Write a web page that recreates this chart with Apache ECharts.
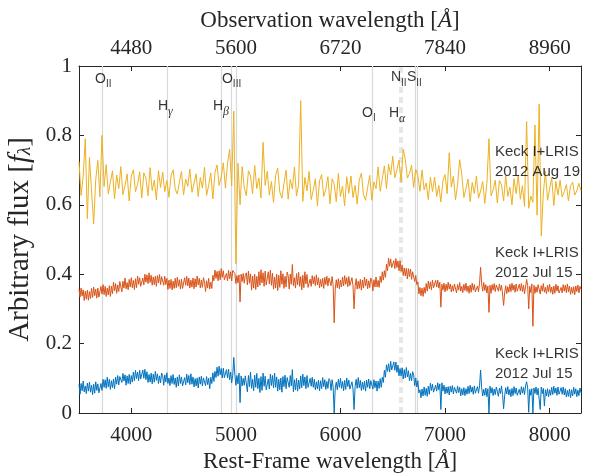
<!DOCTYPE html>
<html><head><meta charset="utf-8">
<script src="https://cdn.jsdelivr.net/npm/echarts@6/dist/echarts.min.js"></script>
<style>html,body{margin:0;padding:0;background:#fff}#c{width:597px;height:475px}</style>
</head><body><div id="c"></div>
<script>
// sampling grids of the spectra (rest-frame wavelength, Angstrom)
const wavelengthStart = 3500;
const stepAug19 = 20;
const stepJul15 = 10;

// Keck I+LRIS 2012 Aug 19 (yellow), 3500-8300 A every 20 A
const fluxAug19 = [
 0.724,0.627,0.682,0.790,0.560,0.736,0.640,0.545,0.673,0.728,
 0.623,0.800,0.653,0.716,0.632,0.665,0.698,0.617,0.686,0.647,
 0.710,0.629,0.656,0.689,0.611,0.683,0.701,0.638,0.659,0.695,
 0.620,0.692,0.677,0.626,0.707,0.641,0.671,0.614,0.698,0.650,
 0.694,0.638,0.670,0.622,0.684,0.701,0.646,0.631,0.665,0.696,
 0.629,0.674,0.653,0.703,0.636,0.662,0.689,0.624,0.679,0.648,
 0.708,0.627,0.656,0.692,0.617,0.693,0.715,0.656,0.681,0.721,
 0.648,0.720,0.760,0.655,0.870,0.430,0.720,0.600,0.710,0.650,
 0.626,0.698,0.683,0.632,0.713,0.647,0.677,0.620,0.780,0.656,
 0.697,0.628,0.667,0.607,0.685,0.706,0.637,0.619,0.661,0.700,
 0.616,0.673,0.646,0.709,0.625,0.658,0.900,0.610,0.679,0.640,
 0.696,0.615,0.642,0.675,0.597,0.669,0.687,0.624,0.645,0.681,
 0.603,0.675,0.660,0.609,0.690,0.624,0.654,0.597,0.681,0.633,
 0.683,0.621,0.656,0.602,0.672,0.691,0.629,0.613,0.650,0.685,
 0.613,0.666,0.647,0.709,0.639,0.675,0.712,0.647,0.717,0.686,
 0.740,0.678,0.701,0.729,0.665,0.760,0.731,0.677,0.690,0.714,
 0.650,0.702,0.684,0.639,0.700,0.643,0.663,0.615,0.679,0.638,
 0.680,0.624,0.656,0.608,0.670,0.687,0.632,0.750,0.651,0.682,
 0.614,0.659,0.730,0.688,0.621,0.647,0.674,0.609,0.664,0.633,
 0.683,0.619,0.640,0.667,0.604,0.662,0.790,0.626,0.643,0.671,
 0.605,0.670,0.657,0.611,0.684,0.624,0.651,0.600,0.675,0.632,
 0.685,0.616,0.655,0.595,0.840,0.590,0.625,0.607,0.830,0.570,
 0.890,0.510,0.634,0.697,0.613,0.646,0.679,0.598,0.667,0.628,
 0.671,0.622,0.638,0.658,0.611,0.655,0.665,0.628,0.640,0.662,
 0.640
];

// Keck I+LRIS 2012 Jul 15 (orange), 3500-8300 A every 10 A
const fluxJul15Upper = [
 0.357,0.334,0.360,0.337,0.355,0.324,0.351,0.328,0.354,0.325,0.350,0.330,0.359,0.333,0.363,0.338,0.357,0.331,0.360,0.334,
 0.336,0.365,0.343,0.370,0.341,0.365,0.336,0.360,0.340,0.367,0.336,0.366,0.344,0.377,0.352,0.373,0.345,0.369,0.350,0.379,
 0.376,0.349,0.380,0.360,0.389,0.358,0.376,0.355,0.385,0.363,0.390,0.361,0.382,0.356,0.387,0.361,0.395,0.371,0.390,0.365,
 0.365,0.389,0.369,0.400,0.377,0.398,0.373,0.404,0.376,0.397,0.368,0.392,0.370,0.394,0.365,0.396,0.375,0.399,0.370,0.393,
 0.392,0.368,0.394,0.370,0.388,0.356,0.383,0.359,0.385,0.355,0.380,0.359,0.388,0.361,0.391,0.365,0.384,0.357,0.386,0.359,
 0.362,0.390,0.368,0.394,0.366,0.389,0.360,0.383,0.363,0.389,0.358,0.387,0.363,0.395,0.369,0.388,0.360,0.383,0.362,0.390,
 0.378,0.350,0.381,0.360,0.388,0.357,0.377,0.359,0.397,0.381,0.412,0.388,0.408,0.381,0.410,0.384,0.416,0.391,0.410,0.384,
 0.379,0.402,0.381,0.411,0.387,0.407,0.381,0.411,0.415,0.402,0.373,0.396,0.375,0.398,0.320,0.400,0.379,0.402,0.374,0.396,
 0.404,0.369,0.409,0.374,0.401,0.354,0.395,0.360,0.400,0.356,0.394,0.363,0.407,0.368,0.413,0.375,0.404,0.365,0.409,0.369,
 0.365,0.407,0.372,0.412,0.368,0.403,0.357,0.392,0.360,0.400,0.353,0.397,0.362,0.410,0.371,0.401,0.359,0.394,0.363,0.406,
 0.396,0.357,0.400,0.371,0.428,0.367,0.390,0.360,0.402,0.369,0.406,0.365,0.393,0.355,0.397,0.361,0.407,0.372,0.399,0.362,
 0.362,0.386,0.365,0.396,0.372,0.393,0.367,0.398,0.369,0.390,0.361,0.385,0.364,0.388,0.359,0.391,0.370,0.394,0.366,0.389,
 0.390,0.367,0.393,0.370,0.260,0.357,0.384,0.361,0.387,0.358,0.383,0.363,0.392,0.366,0.396,0.371,0.390,0.364,0.393,0.367,
 0.362,0.390,0.367,0.300,0.364,0.387,0.357,0.380,0.359,0.385,0.354,0.383,0.360,0.392,0.366,0.386,0.358,0.381,0.361,0.389,
 0.380,0.352,0.384,0.363,0.392,0.363,0.382,0.362,0.394,0.376,0.407,0.383,0.410,0.391,0.429,0.410,0.446,0.423,0.444,0.419,
 0.416,0.439,0.416,0.445,0.419,0.438,0.410,0.439,0.408,0.427,0.396,0.418,0.395,0.417,0.386,0.416,0.393,0.415,0.385,0.407,
 0.405,0.379,0.396,0.370,0.378,0.343,0.362,0.338,0.360,0.336,0.362,0.345,0.373,0.351,0.380,0.358,0.378,0.355,0.383,0.361,
 0.360,0.382,0.363,0.383,0.360,0.377,0.305,0.371,0.354,0.374,0.349,0.371,0.353,0.377,0.357,0.372,0.349,0.367,0.351,0.372,
 0.368,0.346,0.370,0.354,0.376,0.351,0.365,0.347,0.371,0.353,0.374,0.350,0.366,0.345,0.369,0.348,0.374,0.354,0.370,0.349,
 0.347,0.366,0.350,0.374,0.420,0.372,0.351,0.376,0.353,0.370,0.346,0.366,0.290,0.368,0.345,0.370,0.354,0.373,0.350,0.369,
 0.369,0.351,0.372,0.353,0.368,0.343,0.310,0.346,0.367,0.344,0.364,0.348,0.371,0.350,0.374,0.354,0.369,0.348,0.372,0.351,
 0.348,0.371,0.352,0.373,0.350,0.368,0.344,0.363,0.385,0.367,0.300,0.365,0.347,0.372,0.250,0.368,0.345,0.364,0.348,0.370,
 0.365,0.343,0.367,0.351,0.373,0.348,0.362,0.344,0.368,0.350,0.371,0.347,0.363,0.342,0.366,0.345,0.371,0.351,0.367,0.346,
 0.343,0.362,0.346,0.370,0.351,0.368,0.347,0.372,0.349,0.366,0.342,0.362,0.345,0.364,0.341,0.366,0.350,0.369,0.346,0.365,
 0.356
];

// Keck I+LRIS 2012 Jul 15 (blue), 3500-8300 A every 10 A
const fluxJul15Lower = [
 0.082,0.054,0.085,0.064,0.092,0.061,0.078,0.056,0.086,0.063,0.089,0.060,0.080,0.053,0.083,0.057,0.090,0.065,0.084,0.058,
 0.060,0.085,0.065,0.097,0.074,0.096,0.071,0.103,0.075,0.097,0.068,0.093,0.073,0.098,0.070,0.103,0.083,0.108,0.081,0.105,
 0.110,0.088,0.114,0.092,0.110,0.080,0.107,0.085,0.111,0.083,0.108,0.089,0.118,0.093,0.123,0.099,0.118,0.093,0.123,0.098,
 0.096,0.124,0.100,0.126,0.096,0.119,0.088,0.111,0.089,0.115,0.084,0.112,0.089,0.120,0.094,0.113,0.085,0.107,0.087,0.115,
 0.108,0.080,0.110,0.089,0.116,0.085,0.101,0.079,0.108,0.085,0.111,0.082,0.101,0.074,0.104,0.078,0.110,0.085,0.104,0.078,
 0.078,0.102,0.081,0.112,0.087,0.108,0.082,0.113,0.083,0.104,0.075,0.099,0.078,0.101,0.072,0.104,0.083,0.106,0.078,0.101,
 0.102,0.079,0.105,0.082,0.100,0.070,0.103,0.085,0.116,0.091,0.120,0.102,0.132,0.106,0.135,0.110,0.128,0.101,0.129,0.102,
 0.098,0.125,0.101,0.126,0.096,0.118,0.087,0.109,0.160,0.112,0.080,0.108,0.084,0.115,0.030,0.107,0.078,0.100,0.080,0.107,
 0.103,0.061,0.108,0.076,0.118,0.071,0.097,0.064,0.109,0.074,0.114,0.070,0.100,0.059,0.105,0.065,0.115,0.077,0.106,0.067,
 0.065,0.098,0.069,0.112,0.079,0.108,0.072,0.115,0.074,0.104,0.063,0.097,0.067,0.101,0.060,0.105,0.076,0.109,0.070,0.102,
 0.104,0.074,0.108,0.078,0.125,0.061,0.096,0.066,0.100,0.063,0.095,0.069,0.107,0.073,0.112,0.079,0.104,0.070,0.108,0.074,
 0.072,0.100,0.077,0.103,0.074,0.097,0.067,0.090,0.069,0.095,0.064,0.093,0.070,0.102,0.076,0.096,0.068,0.091,0.071,0.099,
 0.093,0.065,0.096,0.075,0.000,0.072,0.089,0.067,0.097,0.074,0.100,0.071,0.091,0.064,0.094,0.068,0.101,0.076,0.095,0.069,
 0.066,0.090,0.069,0.010,0.076,0.097,0.071,0.102,0.073,0.094,0.065,0.089,0.068,0.092,0.063,0.095,0.074,0.098,0.070,0.093,
 0.092,0.069,0.096,0.073,0.092,0.063,0.092,0.071,0.099,0.074,0.103,0.088,0.123,0.103,0.139,0.120,0.142,0.118,0.149,0.124,
 0.121,0.147,0.123,0.147,0.117,0.138,0.107,0.128,0.106,0.130,0.098,0.125,0.101,0.131,0.104,0.122,0.093,0.114,0.093,0.119,
 0.109,0.079,0.101,0.075,0.093,0.058,0.067,0.044,0.069,0.049,0.075,0.051,0.071,0.048,0.077,0.054,0.086,0.065,0.083,0.060,
 0.061,0.080,0.063,0.087,0.067,0.084,0.010,0.087,0.063,0.080,0.055,0.075,0.057,0.076,0.052,0.077,0.060,0.079,0.055,0.074,
 0.075,0.057,0.078,0.059,0.074,0.049,0.070,0.052,0.073,0.050,0.070,0.054,0.077,0.056,0.080,0.060,0.075,0.054,0.078,0.057,
 0.053,0.076,0.057,0.078,0.124,0.073,0.049,0.068,0.051,0.072,0.047,0.070,0.000,0.077,0.057,0.073,0.050,0.069,0.053,0.075,
 0.070,0.048,0.072,0.056,0.078,0.053,0.012,0.049,0.073,0.055,0.076,0.052,0.068,0.047,0.071,0.050,0.076,0.056,0.072,0.051,
 0.049,0.068,0.052,0.076,0.057,0.074,0.053,0.078,0.090,0.072,0.002,0.068,0.051,0.070,0.000,0.072,0.056,0.075,0.052,0.071,
 0.072,0.010,0.075,0.056,0.071,0.020,0.067,0.049,0.070,0.047,0.067,0.051,0.074,0.053,0.077,0.057,0.072,0.051,0.075,0.054,
 0.050,0.073,0.054,0.075,0.052,0.070,0.046,0.065,0.048,0.069,0.044,0.067,0.049,0.074,0.054,0.070,0.047,0.066,0.050,0.072,
 0.058
];

const seriesNames = ['2012 Jul 15 (lower)', '2012 Jul 15 (upper)', '2012 Aug 19'];
const spectrumLabels = ['Keck I+LRIS\n2012 Aug 19', 'Keck I+LRIS\n2012 Jul 15', 'Keck I+LRIS\n2012 Jul 15'];

const restTicks = [4000, 5000, 6000, 7000, 8000];
const observedTickLabels = ['4480', '5600', '6720', '7840', '8960'];

// emission lines (rest wavelength)
const lineWavelengths = [3727, 4340, 4861, 4959, 5007, 6300, 6563, 6583, 6717, 6731];
const dashedLineWavelengths = [6563, 6583];
const lineMain = ['O', 'H', 'H', 'O', 'O', 'H', 'N', 'S'];
const lineSub  = ['II', 'γ', 'β', 'III', 'I', 'α', 'II', 'II'];

// ---- layout (not data) ----
const lineLabelPos = [[3653,0.975],[4255,0.896],[4781,0.896],[4867,0.975],[6206,0.877],[6464,0.877],[6483,0.978],[6636,0.978]];
const spectrumLabelPos = [[7477,0.723],[7477,0.432],[7477,0.141]];
const colors = ['#0072BD', '#D95319', '#EDB120'];

const toPairs = (arr, step) => arr.map((v, i) => [wavelengthStart + i * step, v]);
const axisColor = '#262626';
const serif = 'Liberation Serif';
const sans = 'Liberation Sans';
const tickFont = 21, titleFont = 23, yTitleFont = 29;

const markLineData = lineWavelengths.map(w => {
  const dashed = dashedLineWavelengths.includes(w);
  return {
    xAxis: w,
    lineStyle: dashed ? {color: '#e2e2e2', width: 1.6, type: [6, 4]} : {color: '#d9d9d9', width: 1.2, type: 'solid'}
  };
});

const greek = s => /[αβγ]/.test(s);
const lineLabelData = lineMain.map((m, i) => ({
  value: lineLabelPos[i],
  label: {
    show: true, position: 'right', distance: 0, offset: [0, 4],
    formatter: '{m|' + m + '}{' + (greek(lineSub[i]) ? 'g' : 's') + '|' + lineSub[i] + '}',
    rich: {
      m: {fontFamily: sans, fontSize: 14, lineHeight: 14, verticalAlign: 'top', color: '#000'},
      s: {fontFamily: sans, fontSize: 10, lineHeight: 10, padding: [12, 0, 0, 0], color: '#000'},
      g: {fontFamily: serif, fontStyle: 'italic', fontSize: 12, lineHeight: 10, padding: [12, 0, 0, 0], color: '#000'}
    }
  }
}));

const spectrumLabelData = spectrumLabels.map((t, i) => ({
  value: spectrumLabelPos[i],
  label: {show: true, position: 'right', distance: 0, formatter: t,
    fontFamily: sans, fontSize: 15, lineHeight: 20, color: '#000'}
}));

const chart = echarts.init(document.getElementById('c'), null, {renderer: 'canvas'});
const baseX = {
  type: 'value', min: 3500, max: 8300,
  axisLine: {show: true, onZero: false, lineStyle: {color: axisColor, width: 1}},
  axisTick: {show: true, inside: true, length: 5, customValues: restTicks, lineStyle: {color: axisColor}},
  splitLine: {show: false}
};
const titleRich = {t: {fontFamily: serif, fontSize: titleFont, color: axisColor}, i: {fontFamily: serif, fontStyle: 'italic', fontSize: titleFont, color: axisColor}};
chart.setOption({
  animation: false,
  backgroundColor: '#fff',
  grid: {left: 79, right: 16, top: 66, bottom: 62, containLabel: false, outerBoundsMode: 'none'},
  xAxis: [
    Object.assign({}, baseX, {
      position: 'bottom',
      axisLabel: {customValues: restTicks, fontFamily: serif, fontSize: tickFont, color: axisColor, margin: 12,
        formatter: v => String(v)},
      name: '{t|Rest-Frame wavelength [}{i|Å}{t|]}', nameLocation: 'middle', nameGap: 34,
      nameTextStyle: {rich: titleRich}
    }),
    Object.assign({}, baseX, {
      position: 'top',
      axisLabel: {customValues: restTicks, fontFamily: serif, fontSize: tickFont, color: axisColor, margin: 7,
        formatter: v => observedTickLabels[restTicks.indexOf(v)]},
      name: '{t|Observation wavelength [}{i|Å}{t|]}', nameLocation: 'middle', nameGap: 34,
      nameTextStyle: {rich: titleRich}
    })
  ],
  yAxis: [
    {type: 'value', min: 0, max: 1, interval: 0.2, position: 'left',
     axisLine: {show: true, lineStyle: {color: axisColor}},
     axisTick: {show: true, inside: true, length: 5, lineStyle: {color: axisColor}},
     axisLabel: {fontFamily: serif, fontSize: tickFont, color: axisColor, margin: 7},
     splitLine: {show: false},
     name: '{t|Arbitrary flux [}{i|f}{s|λ}{t|]}', nameLocation: 'middle', nameGap: 38,
     nameTextStyle: {rich: {
       t: {fontFamily: serif, fontSize: yTitleFont, color: axisColor},
       i: {fontFamily: serif, fontStyle: 'italic', fontSize: yTitleFont, color: axisColor},
       s: {fontFamily: serif, fontStyle: 'italic', fontSize: 19, color: axisColor, padding: [10, 0, 0, 0]}
     }}},
    {type: 'value', min: 0, max: 1, interval: 0.2, position: 'right',
     axisLine: {show: true, lineStyle: {color: axisColor}},
     axisTick: {show: true, inside: true, length: 5, lineStyle: {color: axisColor}},
     axisLabel: {show: false}, splitLine: {show: false}}
  ],
  series: [
    {type: 'line', name: 'lines', data: [], silent: true, z: 1,
     markLine: {silent: true, symbol: 'none', label: {show: false}, z: 1, data: markLineData}},
    {type: 'line', name: seriesNames[0], data: toPairs(fluxJul15Lower, stepJul15), showSymbol: false, symbol: 'none', z: 2,
     lineStyle: {color: colors[0], width: 1}, itemStyle: {color: colors[0]}},
    {type: 'line', name: seriesNames[1], data: toPairs(fluxJul15Upper, stepJul15), showSymbol: false, symbol: 'none', z: 2,
     lineStyle: {color: colors[1], width: 1}, itemStyle: {color: colors[1]}},
    {type: 'line', name: seriesNames[2], data: toPairs(fluxAug19, stepAug19), showSymbol: false, symbol: 'none', z: 2,
     lineStyle: {color: colors[2], width: 1}, itemStyle: {color: colors[2]}},
    {type: 'scatter', name: 'line labels', data: lineLabelData, symbolSize: 0, silent: true, clip: false, z: 10},
    {type: 'scatter', name: 'spectrum labels', data: spectrumLabelData, symbolSize: 0, silent: true, clip: false, z: 10}
  ]
});
</script></body></html>
